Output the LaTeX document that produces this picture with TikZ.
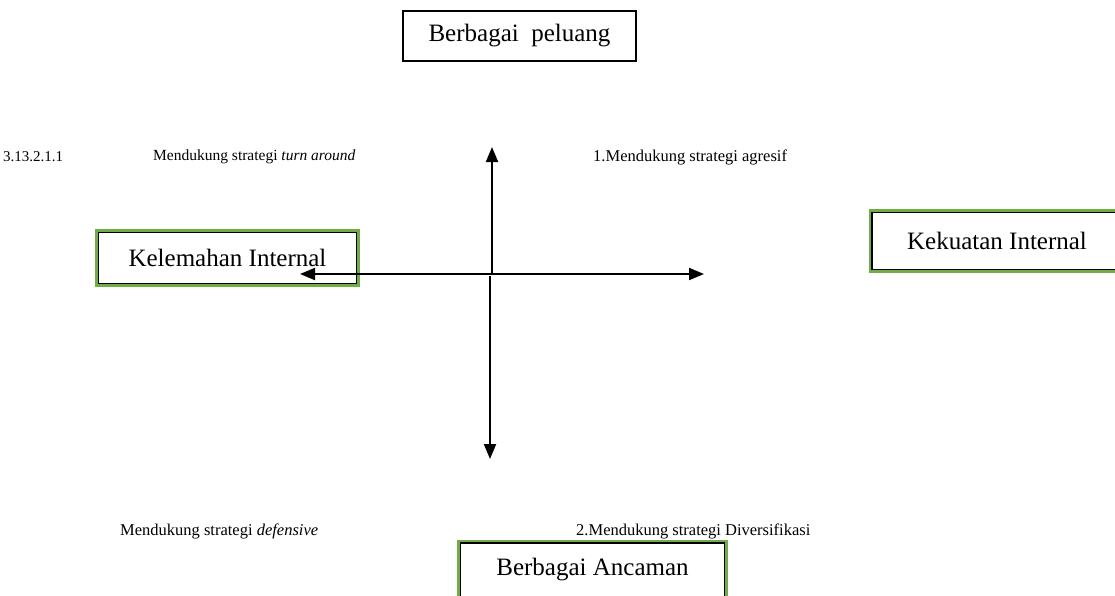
\documentclass[tikz,border=0pt]{standalone}
\usepackage{fontspec}
\setmainfont{Liberation Serif}
\usetikzlibrary{arrows.meta}
\definecolor{boxgreen}{RGB}{112,173,71}
\begin{document}
\begin{tikzpicture}[x=1pt,y=-1pt,
  plainbox/.style={draw=black, line width=1.5pt, fill=white, inner sep=0pt, font=\fontsize{25}{30}\selectfont},
  greenbox/.style={plainbox, preaction={draw=boxgreen, line width=7pt, rounded corners=6pt}},
  lbl/.style={anchor=west, inner sep=0pt, font=\fontsize{16.5}{20}\selectfont},
  axis/.style={line width=2pt, -{Triangle[length=15pt,width=12pt]}}]
\useasboundingbox (0,0) rectangle (1115,595);
\node[plainbox, minimum width=233pt, minimum height=50pt] (peluang) at (519.5,36) {Berbagai\ \ peluang};
\node[greenbox, minimum width=258pt, minimum height=51pt] (lemah) at (227.5,258) {Kelemahan Internal};
\node[greenbox, minimum width=250pt, minimum height=57pt] (kuat) at (997,241) {Kekuatan Internal};
\node[greenbox, minimum width=264pt, minimum height=54pt] (ancam) at (592.5,570) {Berbagai Ancaman};
\coordinate (o) at (490,274);
\coordinate (oa) at (492,275);
\coordinate (ob) at (490,276);
\coordinate (up) at (492,147);
\coordinate (dn) at (490,459);
\coordinate (lt) at (300,274);
\coordinate (rt) at (704,274);
\draw[axis] (oa) -- (up);
\draw[axis] (ob) -- (dn);
\draw[axis] (o) -- (lt);
\draw[axis] (o) -- (rt);
\node[lbl, font=\fontsize{15}{18}\selectfont] (num) at (3,157) {3.13.2.1.1};
\node[lbl, font=\fontsize{15.5}{19}\selectfont] (ta) at (153,157) {Mendukung strategi \textit{turn around}};
\node[lbl] (ag) at (593,157) {1.Mendukung strategi agresif};
\node[lbl] (df) at (120,531) {Mendukung strategi \textit{defensive}};
\node[lbl] (dv) at (576,531) {2.Mendukung strategi Diversifikasi};
\end{tikzpicture}
\end{document}
